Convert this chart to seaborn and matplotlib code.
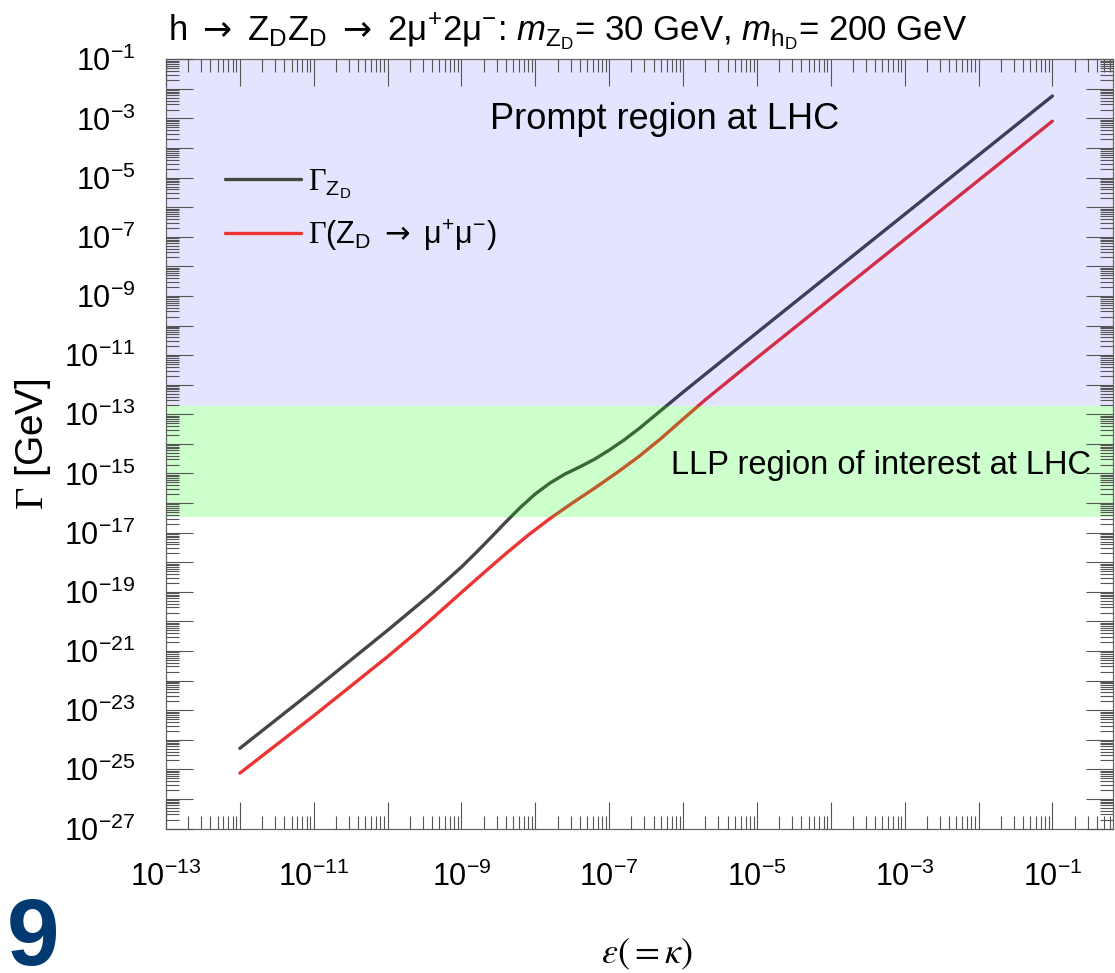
import matplotlib
matplotlib.use("Agg")
import matplotlib.pyplot as plt
from matplotlib import ticker
import seaborn as sns
import numpy as np
import pandas as pd

# values (log10 of epsilon and of Gamma in GeV)
log_eps_total = [-12.0, -11.0, -10.0, -9.6, -9.4, -9.2, -9.0, -8.8, -8.6, -8.4,
                 -8.2, -8.0, -7.8, -7.6, -7.4, -7.2, -7.0, -6.8, -6.6, -6.3,
                 -6.0, -5.0, -1.0]
log_gamma_total = [-24.29, -22.32, -20.30, -19.47, -19.05, -18.61, -18.16, -17.67, -17.16, -16.64,
                   -16.14, -15.69, -15.32, -15.02, -14.78, -14.52, -14.21, -13.87, -13.49, -12.87,
                   -12.25, -10.24, -2.24]

log_eps_mumu = [-12.0, -11.0, -10.0, -9.6, -9.3, -9.0, -8.7, -8.4, -8.1, -7.8,
                -7.5, -7.2, -6.9, -6.6, -6.3, -6.0, -5.7, -5.0, -1.0]
log_gamma_mumu = [-25.13, -23.19, -21.19, -20.35, -19.69, -19.02, -18.36, -17.71, -17.09, -16.52,
                  -16.00, -15.50, -14.98, -14.43, -13.82, -13.16, -12.51, -11.09, -3.09]

# shaded regions (GeV)
prompt_region = [1.9e-13, 1e-1]
llp_region = [3.3e-17, 1.9e-13]

labels = [r"$\mathcal{\Gamma}_{\mathrm{Z}_{\mathrm{D}}}$",
          r"$\mathcal{\Gamma}(\mathrm{Z}_{\mathrm{D}}\ \mathsf{\rightarrow}\ \mathrm{\mu}^{+}\mathrm{\mu}^{-})$"]

df_total = pd.DataFrame({"eps": 10.0 ** np.array(log_eps_total),
                         "gamma": 10.0 ** np.array(log_gamma_total)})
df_mumu = pd.DataFrame({"eps": 10.0 ** np.array(log_eps_mumu),
                        "gamma": 10.0 ** np.array(log_gamma_mumu)})

sns.set_style("ticks")
plt.rcParams["font.family"] = ["Liberation Sans", "DejaVu Sans"]
plt.rcParams["mathtext.fontset"] = "custom"
plt.rcParams["mathtext.rm"] = "Liberation Sans"
plt.rcParams["mathtext.it"] = "Liberation Sans:italic"
plt.rcParams["mathtext.cal"] = "Liberation Serif"
plt.rcParams["mathtext.sf"] = "DejaVu Sans"
for key in ["text.color", "axes.labelcolor", "xtick.labelcolor", "ytick.labelcolor"]:
    plt.rcParams[key] = "black"

fig = plt.figure(figsize=(11.15, 9.73), dpi=100)
ax = fig.add_axes([166 / 1115, 1 - 828.5 / 973, 947 / 1115, 769.2 / 973])
ax.set_axisbelow(False)

sns.lineplot(data=df_total, x="eps", y="gamma", ax=ax, color="#464646", lw=2.4,
             sort=False, estimator=None, label=labels[0], zorder=2)
sns.lineplot(data=df_mumu, x="eps", y="gamma", ax=ax, color="#EE3333", lw=2.4,
             sort=False, estimator=None, label=labels[1], zorder=2)

ax.set_xscale("log")
ax.set_yscale("log")
ax.set_xlim(1e-13, 10 ** -0.18)
ax.set_ylim(1e-27, 1e-1)

# translucent bands drawn over the curves
ax.axhspan(prompt_region[0], prompt_region[1], color=(0, 0, 1), alpha=0.106, lw=0, zorder=2.2)
ax.axhspan(llp_region[0], llp_region[1], color=(0, 1, 0), alpha=0.2, lw=0, zorder=2.2)

ax.text(10 ** -8.62, 10 ** -3.36, "Prompt region at LHC", fontsize=26,
        ha="left", va="baseline", zorder=4)
ax.text(10 ** -6.17, 10 ** -15.03, "LLP region of interest at LHC", fontsize=23.5,
        ha="left", va="baseline", zorder=4)


def odd_pow(v, pos):
    e = int(round(np.log10(v)))
    return r"$10^{%d}$" % e if e % 2 else ""


for axis in (ax.xaxis, ax.yaxis):
    axis.set_major_locator(ticker.LogLocator(base=10, subs=(1.0,), numticks=100))
    axis.set_minor_locator(ticker.LogLocator(base=10, subs=np.arange(2, 10) * 1.0, numticks=200))
    axis.set_major_formatter(ticker.FuncFormatter(odd_pow))
    axis.set_minor_formatter(ticker.NullFormatter())

ax.tick_params(which="both", direction="in", top=True, right=True, color="#555555",
               width=0.8, labelsize=22)
ax.tick_params(which="major", length=19.5)
ax.tick_params(which="minor", length=9.4)
ax.tick_params(axis="y", pad=22)
ax.tick_params(axis="x", pad=24)
for sp in ax.spines.values():
    sp.set_color("#666666")
    sp.set_linewidth(0.9)

ax.set_xlabel(r"$\epsilon(=\kappa)$", fontsize=26, math_fontfamily="stix")
ax.xaxis.set_label_coords(0.508, -0.141)
ax.set_ylabel(r"$\mathcal{\Gamma}$ [GeV]", fontsize=28)
ax.yaxis.set_label_coords(-0.119, 0.5)

fig.text(168 / 1115, 1 - 40 / 973,
         r"$\mathrm{h}\ \mathsf{\rightarrow}\ \mathrm{Z_DZ_D}\ \mathsf{\rightarrow}\ \mathrm{2\mu^{+}2\mu^{-}}$: "
         r"$m_{\mathrm{Z_D}}$= 30 GeV, $m_{\mathrm{h_D}}$= 200 GeV",
         fontsize=25, ha="left", va="baseline")

ax.legend(loc="upper left", bbox_to_anchor=(225 / 1115, 1 - 167 / 973),
          bbox_transform=fig.transFigure, frameon=False, fontsize=22,
          handlelength=2.5, handletextpad=0.2, labelspacing=0.55,
          borderpad=0, borderaxespad=0).set_zorder(5)

fig.text(7 / 1115, 0.008, "9", fontsize=68, fontweight="bold", color="#003a70",
         ha="left", va="baseline")

fig.savefig("out.png", dpi=100)
